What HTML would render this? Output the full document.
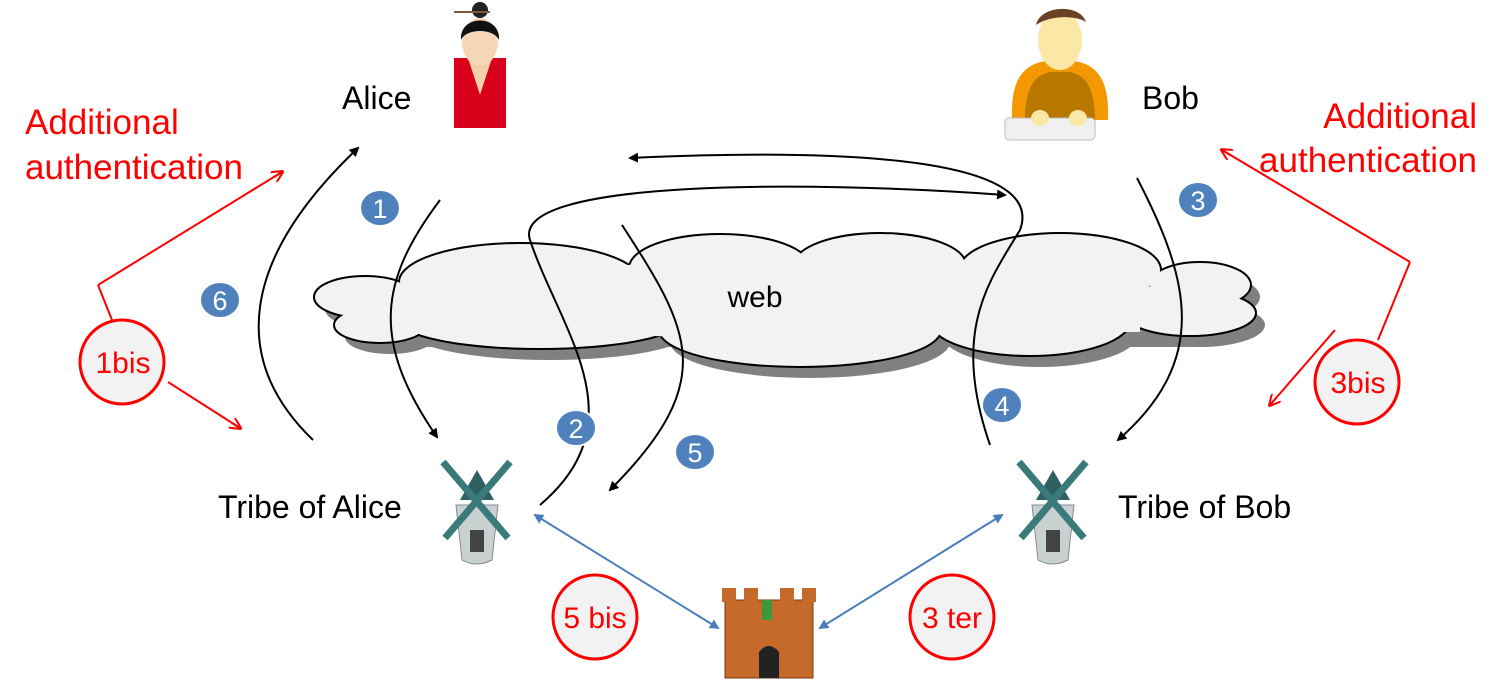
<!DOCTYPE html>
<html><head><meta charset="utf-8"><style>
body{margin:0;background:#fff}
svg{display:block}
text{font-family:"Liberation Sans",sans-serif}
</style></head><body>
<svg width="1508" height="680" viewBox="0 0 1508 680" xmlns="http://www.w3.org/2000/svg">
<defs>
<marker id="ab" markerWidth="10" markerHeight="10" refX="8" refY="5" orient="auto" markerUnits="userSpaceOnUse"><path d="M0,0 L10,5 L0,10 z" fill="#000"/></marker>
<marker id="ar" markerWidth="12" markerHeight="12" refX="10" refY="6" orient="auto" markerUnits="userSpaceOnUse"><path d="M0,0 L12,6 L0,12 M12,6 L0,6" fill="none" stroke="red" stroke-width="2"/></marker>
<marker id="abl" markerWidth="10" markerHeight="10" refX="8" refY="5" orient="auto-start-reverse" markerUnits="userSpaceOnUse"><path d="M0,0 L10,5 L0,10 z" fill="#4a7ebb"/></marker>
<g id="cl">
<ellipse cx="365" cy="297" rx="50" ry="20"/><ellipse cx="380" cy="325" rx="45" ry="17"/>
<ellipse cx="520" cy="282" rx="120" ry="38"/><ellipse cx="720" cy="268" rx="90" ry="33"/>
<ellipse cx="880" cy="265" rx="85" ry="31"/><ellipse cx="1060" cy="270" rx="100" ry="36"/>
<ellipse cx="1200" cy="285" rx="50" ry="22"/><ellipse cx="1190" cy="313" rx="65" ry="22"/>
<ellipse cx="1030" cy="320" rx="100" ry="35"/><ellipse cx="800" cy="330" rx="140" ry="36"/>
<ellipse cx="540" cy="320" rx="140" ry="28"/>
</g>
</defs>
<!-- cloud -->
<g transform="translate(10,12)" fill="#808080"><use href="#cl"/><rect x="390" y="265" width="790" height="70"/></g>
<use href="#cl" fill="none" stroke="#000" stroke-width="4"/>
<use href="#cl" fill="#f2f2f2"/>
<rect x="430" y="275" width="710" height="57" fill="#f2f2f2"/>
<ellipse cx="780" cy="300" rx="395" ry="38" fill="#f2f2f2"/>
<text x="755" y="307" font-size="30" text-anchor="middle">web</text>

<!-- black arrows -->
<g fill="none" stroke="#000" stroke-width="2" marker-end="url(#ab)">
<path d="M313,440 C230,360 240,260 358,148"/>
<path d="M440,200 C380,280 370,340 437,437"/>
<path d="M540,505 C640,420 560,330 530,240 C510,180 800,180 1005,195"/>
<path d="M990,445 C950,330 990,280 1020,230 C1050,150 800,150 630,158"/>
<path d="M622,225 C690,330 720,380 610,490"/>
<path d="M1137,178 C1190,280 1210,360 1118,440"/>
</g>
<!-- blue lines -->
<g stroke="#4a7ebb" stroke-width="2" marker-start="url(#abl)" marker-end="url(#abl)">
<line x1="535" y1="515" x2="718" y2="628"/>
<line x1="1002" y1="515" x2="820" y2="628"/>
</g>
<!-- red lines -->
<g fill="none" stroke="red" stroke-width="2">
<path d="M98,285 L282,172" marker-end="url(#ar)"/>
<path d="M98,285 L112,320"/>
<path d="M168,382 L240,428" marker-end="url(#ar)"/>
<path d="M1410,262 L1222,150" marker-end="url(#ar)"/>
<path d="M1410,262 L1378,340"/>
<path d="M1335,330 L1270,405" marker-end="url(#ar)"/>
</g>
<!-- red circles -->
<g fill="#f2f2f2" stroke="red" stroke-width="3">
<circle cx="122" cy="362" r="42"/><circle cx="1357" cy="382" r="42"/>
<circle cx="595" cy="617" r="42"/><circle cx="952" cy="617" r="42"/>
</g>
<g fill="red" font-size="30" text-anchor="middle">
<text x="123" y="373">1bis</text><text x="1358" y="393">3bis</text>
<text x="595" y="628">5 bis</text><text x="952" y="628">3 ter</text>
</g>
<g fill="red" font-size="35">
<text x="25" y="134">Additional</text><text x="25" y="179">authentication</text>
<text x="1477" y="128" text-anchor="end">Additional</text><text x="1477" y="172" text-anchor="end">authentication</text>
</g>
<!-- blue badges -->
<g fill="#4f81bd" stroke="#fff" stroke-width="2">
<ellipse cx="380" cy="208" rx="20" ry="18"/><ellipse cx="576" cy="428" rx="20" ry="18"/>
<ellipse cx="1198" cy="200" rx="20" ry="18"/><ellipse cx="1002" cy="405" rx="20" ry="18"/>
<ellipse cx="695" cy="452" rx="20" ry="18"/><ellipse cx="220" cy="300" rx="20" ry="18"/>
</g>
<g fill="#fff" font-size="27" text-anchor="middle">
<text x="380" y="218">1</text><text x="576" y="438">2</text><text x="1198" y="210">3</text>
<text x="1002" y="415">4</text><text x="695" y="462">5</text><text x="220" y="310">6</text>
</g>
<!-- labels -->
<g font-size="32" fill="#000">
<text x="342" y="109">Alice</text><text x="1142" y="109">Bob</text>
<text x="218" y="518">Tribe of Alice</text><text x="1118" y="518">Tribe of Bob</text>
</g>
<!-- Alice icon -->
<g>
<rect x="454" y="58" width="52" height="70" fill="#d9001b"/>
<path d="M468,58 L480,95 L492,58 z" fill="#f3cfb0"/>
<ellipse cx="480" cy="42" rx="18" ry="24" fill="#f7d6b8"/>
<path d="M461,40 C459,14 501,14 499,40 C494,28 466,28 461,40z" fill="#111"/>
<circle cx="480" cy="10" r="8" fill="#222"/>
<line x1="454" y1="12" x2="490" y2="12" stroke="#7a5a3a" stroke-width="2"/>
</g>
<!-- Bob icon -->
<g>
<path d="M1012,120 C1010,70 1030,60 1060,60 C1090,60 1110,70 1108,120z" fill="#f39800"/>
<path d="M1025,120 C1025,80 1040,70 1060,72 C1080,70 1095,80 1095,120z" fill="#b87800"/>
<ellipse cx="1060" cy="40" rx="22" ry="30" fill="#fbe7a6"/>
<path d="M1036,25 C1040,5 1080,3 1086,22 C1075,15 1050,15 1036,25z" fill="#6b4226"/>
<rect x="1005" y="118" width="90" height="22" rx="4" fill="#f0f0f0" stroke="#bbb"/>
<ellipse cx="1040" cy="118" rx="9" ry="8" fill="#fbe7a6"/><ellipse cx="1078" cy="118" rx="9" ry="8" fill="#fbe7a6"/>
</g>
<!-- windmills -->
<g id="wm">
<path d="M456,505 L462,560 Q476,568 492,560 L498,505z" fill="#c8d0d0" stroke="#889" stroke-width="1"/>
<path d="M460,500 L477,470 L494,500z" fill="#2f5f60"/>
<path d="M443,462 L508,538 M510,462 L445,538" stroke="#3a7a7a" stroke-width="7" fill="none"/>
<rect x="470" y="530" width="14" height="22" fill="#444"/>
</g>
<use href="#wm" transform="translate(576,0)"/>
<!-- castle -->
<g>
<rect x="725" y="600" width="88" height="78" fill="#c66a2c" stroke="#7a3a10"/>
<rect x="722" y="588" width="14" height="14" fill="#c66a2c"/><rect x="744" y="588" width="14" height="14" fill="#c66a2c"/>
<rect x="780" y="588" width="14" height="14" fill="#c66a2c"/><rect x="802" y="588" width="14" height="14" fill="#c66a2c"/>
<rect x="762" y="600" width="10" height="20" fill="#3a9a3a"/>
<path d="M759,678 L759,652 Q769,640 779,652 L779,678z" fill="#222"/>
</g>
</svg>
</body></html>
